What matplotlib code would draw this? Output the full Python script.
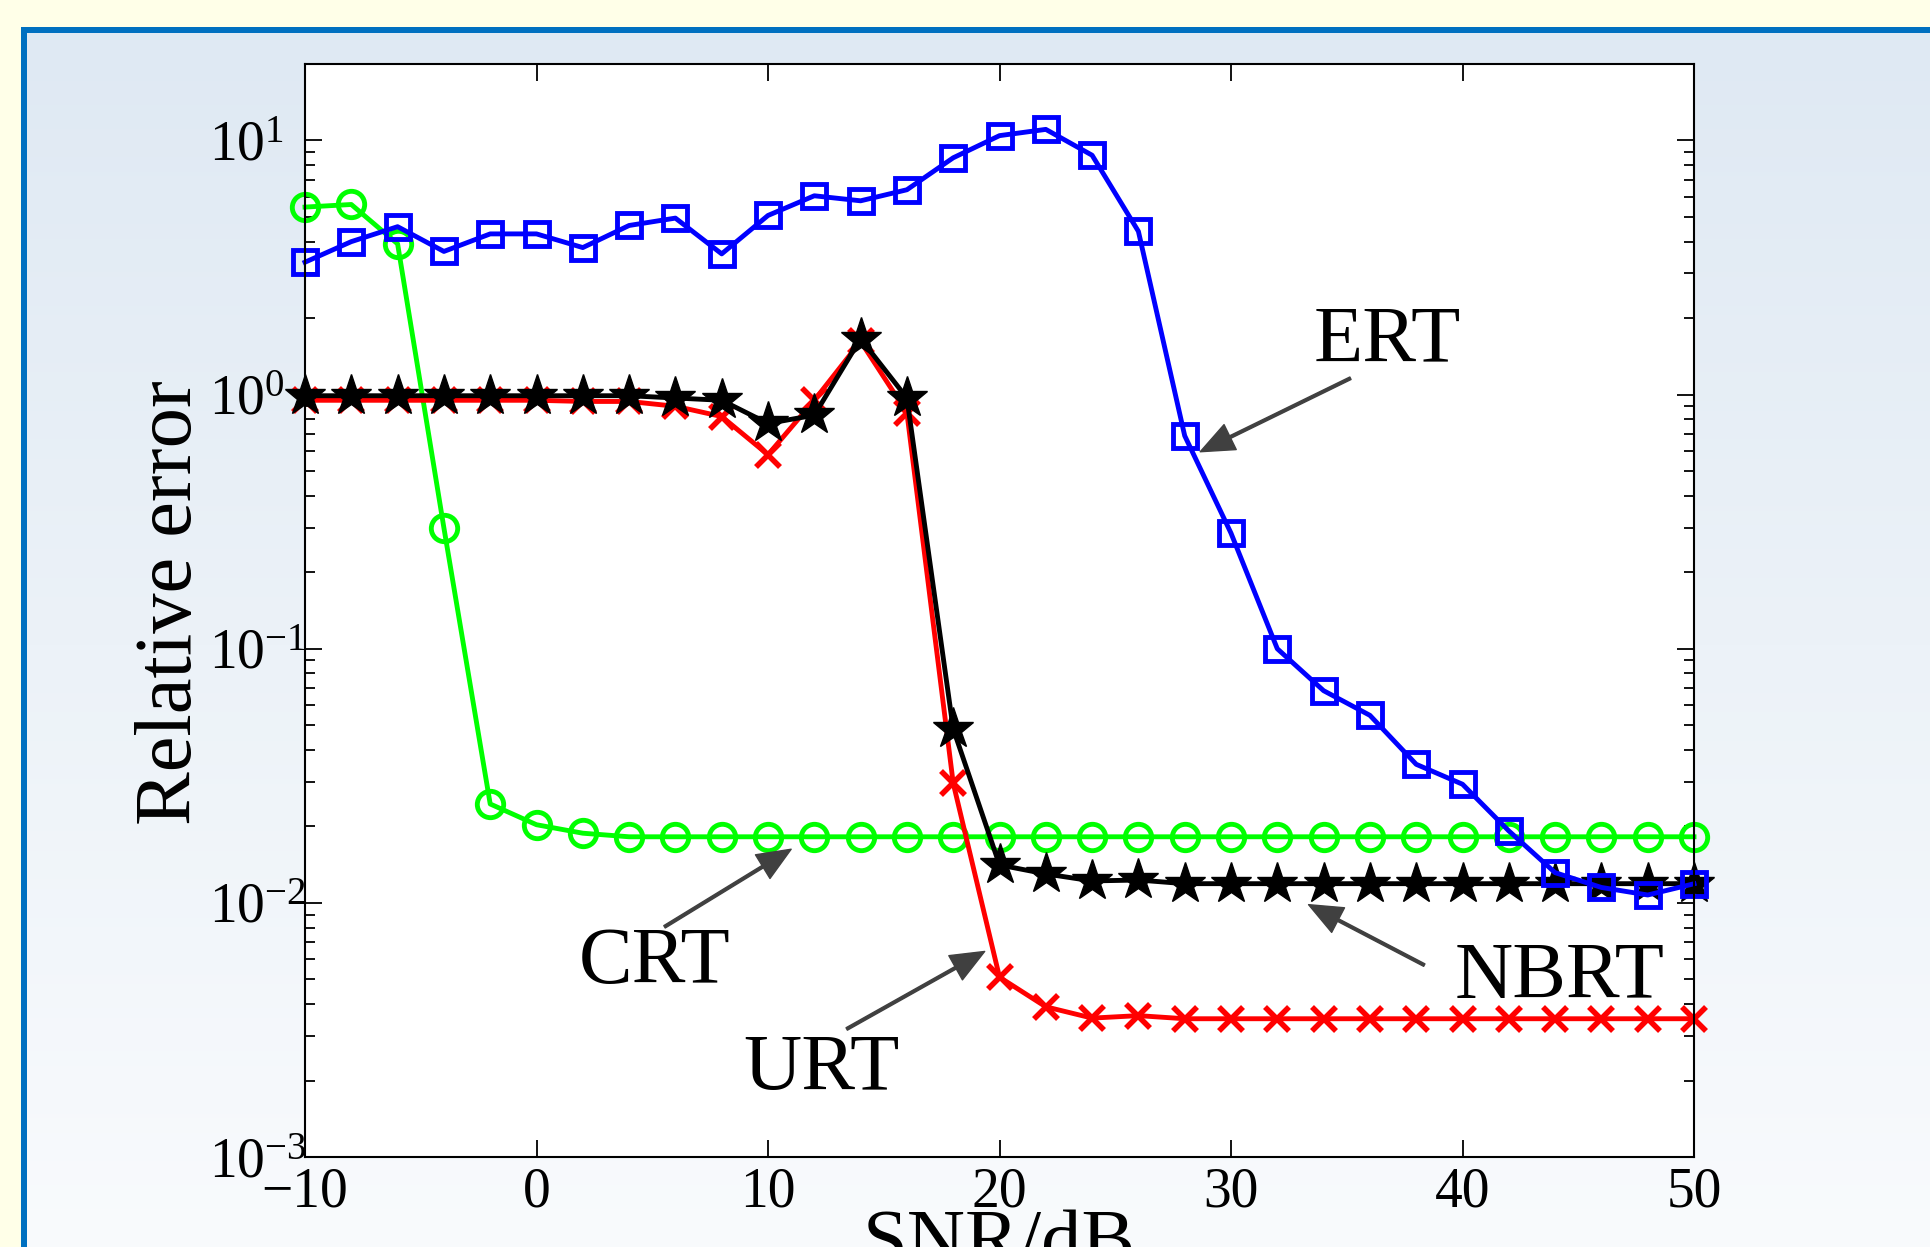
import numpy as np
import matplotlib
matplotlib.use('Agg')
import matplotlib.pyplot as plt
from matplotlib.patches import Rectangle

plt.rcParams['font.family'] = 'serif'
plt.rcParams['font.serif'] = ['Liberation Serif', 'DejaVu Serif']
plt.rcParams['mathtext.fontset'] = 'stix'
plt.rcParams['axes.unicode_minus'] = True

# SNR points (dB) and relative error for each method
snr = [-10, -8, -6, -4, -2, 0, 2, 4, 6, 8, 10, 12, 14, 16, 18, 20,
       22, 24, 26, 28, 30, 32, 34, 36, 38, 40, 42, 44, 46, 48, 50]

crt = [5.47, 5.60, 3.92, 0.299, 0.0245, 0.0203, 0.0188, 0.0182, 0.0182, 0.0182,
       0.0182, 0.0182, 0.0182, 0.0182, 0.0182, 0.0182, 0.0182, 0.0182, 0.0182, 0.0182,
       0.0182, 0.0182, 0.0182, 0.0182, 0.0182, 0.0182, 0.0182, 0.0182, 0.0182, 0.0182,
       0.0182]

urt = [0.95, 0.95, 0.95, 0.95, 0.95, 0.95, 0.94, 0.94, 0.90, 0.82,
       0.58, 0.95, 1.62, 0.85, 0.0296, 0.0051, 0.0039, 0.00352, 0.0036, 0.0035,
       0.0035, 0.0035, 0.0035, 0.0035, 0.0035, 0.0035, 0.0035, 0.0035, 0.0035, 0.0035,
       0.0035]

nbrt = [0.99, 0.99, 0.99, 0.99, 0.99, 0.99, 0.99, 0.99, 0.97, 0.95,
        0.77, 0.83, 1.66, 0.97, 0.0484, 0.0141, 0.0130, 0.0122, 0.0123, 0.0119,
        0.0119, 0.0119, 0.0119, 0.0119, 0.0119, 0.0119, 0.0119, 0.0119, 0.0119, 0.0119,
        0.0119]

ert = [3.32, 4.0, 4.58, 3.66, 4.29, 4.29, 3.79, 4.63, 4.95, 3.58,
       5.07, 6.06, 5.79, 6.40, 8.55, 10.45, 11.06, 8.75, 4.39, 0.689,
       0.285, 0.100, 0.0684, 0.0547, 0.0351, 0.0293, 0.0192, 0.01315, 0.0115, 0.01074,
       0.01189]

W, H = 1930, 1247
fig = plt.figure(figsize=(W / 100, H / 100), dpi=100)
fig.patch.set_facecolor('#FFFFE8')

# slide-like background: blue frame + light gradient
bg = fig.add_axes([0, 0, 1, 1], zorder=0)
bg.axis('off')
bg.add_patch(Rectangle((21, 27), W, H, facecolor='#0070C0', edgecolor='none'))
top_c = np.array([223, 233, 243]) / 255
bot_c = np.array([249, 251, 253]) / 255
t = np.linspace(0, 1, 256)[:, None, None]
grad = top_c * (1 - t) + bot_c * t
bg.imshow(grad, extent=[27, W + 10, H + 10, 33], aspect='auto', zorder=1)
bg.set_xlim(0, W)
bg.set_ylim(H, 0)

# main plot
ax = fig.add_axes([305 / W, 1 - 1157 / H, 1389 / W, 1093 / H], zorder=1)
ax.set_facecolor('white')

ax.plot(snr, crt, color=(0, 1, 0), lw=3.5, marker='o', ms=19, mew=3.5, mfc='none', clip_on=False)
ax.plot(snr, urt, color=(1, 0, 0), lw=3.5, marker='x', ms=17, mew=4, clip_on=False)
ax.plot(snr, nbrt, color='black', lw=3.5, marker='*', ms=31, mew=1, clip_on=False)
ax.plot(snr, ert, color=(0, 0, 1), lw=3.5, marker='s', ms=17, mew=3.5, mfc='none', clip_on=False)

ax.set_yscale('log')
ax.set_xlim(-10, 50)
ax.set_ylim(1e-3, 20)
ax.set_xticks([-10, 0, 10, 20, 30, 40, 50])

ax.tick_params(which='both', direction='in', top=True, right=True, labelsize=40, width=1.3)
ax.tick_params(which='major', length=12)
ax.tick_params(which='minor', length=7)
ax.tick_params(axis='y', pad=69)
ax.tick_params(axis='x', pad=7)
ax.xaxis.set_minor_locator(matplotlib.ticker.NullLocator())
for lab in ax.get_yticklabels():
    lab.set_horizontalalignment('left')
for s in ax.spines.values():
    s.set_linewidth(1.5)

ax.set_xlabel('SNR/dB', fontsize=58)
ax.xaxis.set_label_coords(0.5, -0.048)
ax.set_ylabel('Relative error', fontsize=58)
ax.yaxis.set_label_coords(-0.070, 0.507)

arrow = dict(facecolor='#404040', edgecolor='#404040', width=2, headwidth=20, headlength=24)

# labels with arrows
ax.text(36.76, 1.61, 'ERT', fontsize=58, ha='center', va='center')
ax.annotate('', xy=(28.67, 0.596), xytext=(35.16, 1.16), arrowprops=arrow)

ax.text(5.1, 0.00575, 'CRT', fontsize=58, ha='center', va='center')
ax.annotate('', xy=(11.0, 0.01626), xytext=(5.53, 0.00805), arrowprops=arrow)

ax.text(12.29, 0.00218, 'URT', fontsize=58, ha='center', va='center')
ax.annotate('', xy=(19.36, 0.00644), xytext=(13.4, 0.00319), arrowprops=arrow)

ax.text(44.2, 0.00504, 'NBRT', fontsize=58, ha='center', va='center')
ax.annotate('', xy=(33.35, 0.00984), xytext=(38.35, 0.00569), arrowprops=arrow)

fig.savefig('out.png', dpi=100, facecolor=fig.get_facecolor())
